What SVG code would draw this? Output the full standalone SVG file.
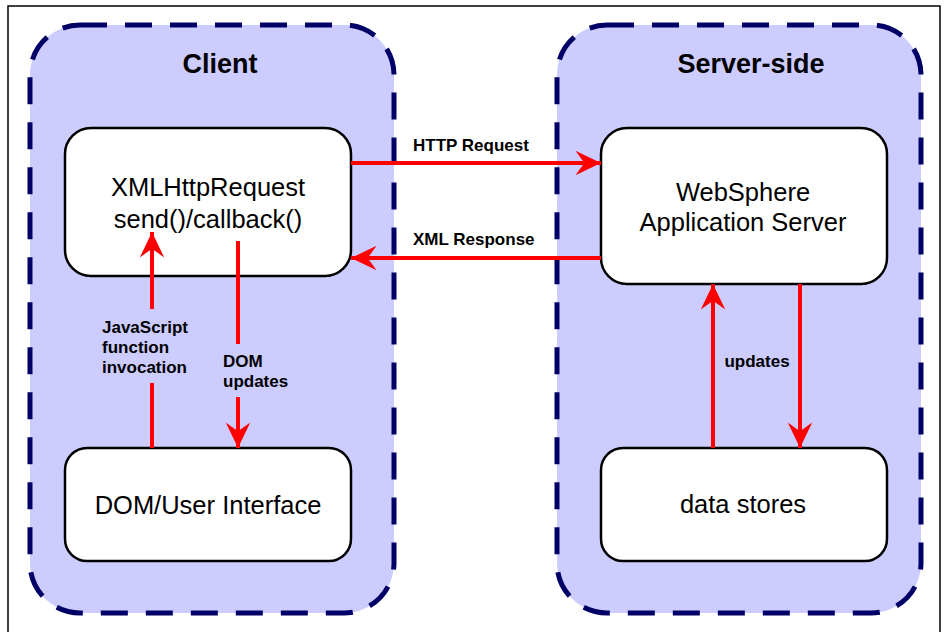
<svg xmlns="http://www.w3.org/2000/svg" width="944" height="632" viewBox="0 0 944 632">
<defs>
<style>
.frame{fill:#fff;stroke:#000;stroke-width:1.5}
.zone{fill:#ccccff;stroke:#000066;stroke-width:5;stroke-dasharray:27 18}
.node{fill:#fff;stroke:#000;stroke-width:2.5}
.title{font-family:"Liberation Sans",Arial,sans-serif;font-weight:bold;font-size:27px;fill:#000;text-anchor:middle}
.lbl{font-family:"Liberation Sans",Arial,sans-serif;font-size:25.5px;fill:#000;text-anchor:middle}
.elbl{font-family:"Liberation Sans",Arial,sans-serif;font-weight:bold;font-size:17px;fill:#000}
.conn{stroke:#ff0000;stroke-width:4;fill:none}
</style>
<marker id="ah" markerUnits="userSpaceOnUse" markerWidth="30" markerHeight="30" viewBox="-25 -12 27 24" refX="0" refY="0" orient="auto">
<path d="M0,0 L-23,-11 L-15,0 L-23,11 Z" fill="#ff0000"/>
</marker>
</defs>
<rect class="frame" x="8" y="6" width="932" height="640"/>
<g id="client-zone">
<rect class="zone" x="30" y="25" width="364" height="588" rx="50" ry="50"/>
<text class="title" x="220" y="73">Client</text>
</g>
<g id="server-zone">
<rect class="zone" x="557" y="25" width="364" height="588" rx="50" ry="50"/>
<text class="title" x="751" y="73">Server-side</text>
</g>
<g id="xhr">
<rect class="node" x="65" y="128" width="286" height="148" rx="26" ry="26"/>
<text class="lbl" x="208" y="196">XMLHttpRequest</text>
<text class="lbl" x="208" y="228">send()/callback()</text>
</g>
<g id="dom">
<rect class="node" x="65" y="448" width="286" height="113" rx="22" ry="22"/>
<text class="lbl" x="208" y="514">DOM/User Interface</text>
</g>
<g id="was">
<rect class="node" x="601" y="128" width="286" height="156" rx="26" ry="26"/>
<text class="lbl" x="743" y="201">WebSphere</text>
<text class="lbl" x="743" y="231">Application Server</text>
</g>
<g id="datastores">
<rect class="node" x="601" y="448" width="286" height="113" rx="22" ry="22"/>
<text class="lbl" x="743" y="513">data stores</text>
</g>
<g id="connectors">
<line class="conn" x1="351" y1="163" x2="601" y2="163" marker-end="url(#ah)"/>
<text class="elbl" x="413" y="151">HTTP Request</text>
<line class="conn" x1="601" y1="258" x2="351" y2="258" marker-end="url(#ah)"/>
<text class="elbl" x="413" y="245">XML Response</text>
<line class="conn" x1="152" y1="448" x2="152" y2="383"/>
<line class="conn" x1="152" y1="309" x2="152" y2="232" marker-end="url(#ah)"/>
<text class="elbl" x="102" y="333">JavaScript</text>
<text class="elbl" x="102" y="353">function</text>
<text class="elbl" x="102" y="373">invocation</text>
<line class="conn" x1="238" y1="241" x2="238" y2="344"/>
<line class="conn" x1="238" y1="397" x2="238" y2="448" marker-end="url(#ah)"/>
<text class="elbl" x="223" y="367">DOM</text>
<text class="elbl" x="223" y="387">updates</text>
<line class="conn" x1="713" y1="448" x2="713" y2="284" marker-end="url(#ah)"/>
<line class="conn" x1="800" y1="284" x2="800" y2="448" marker-end="url(#ah)"/>
<text class="elbl" x="757" y="367" text-anchor="middle">updates</text>
</g>
</svg>
